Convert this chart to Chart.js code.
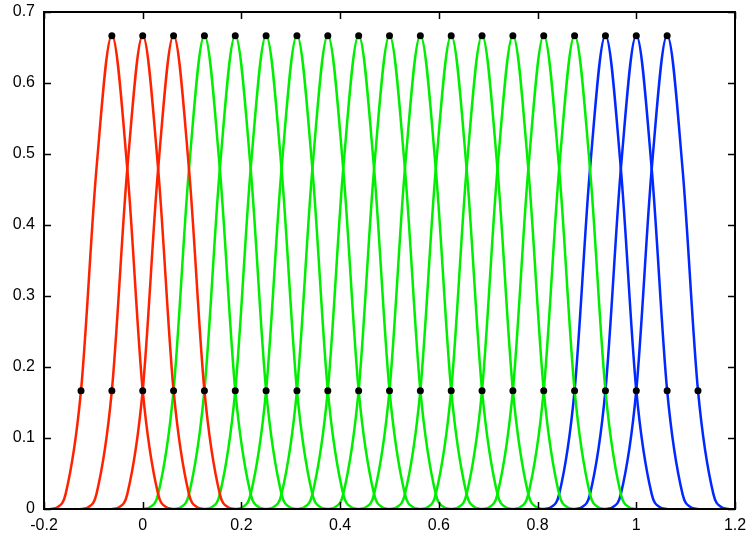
<!DOCTYPE html>
<html>
<head>
<meta charset="utf-8">
<script src="https://cdn.jsdelivr.net/npm/chart.js@4.4.1/dist/chart.umd.min.js"></script>
<style>
  html, body { margin: 0; padding: 0; background: #fff; }
  #wrap { width: 747px; height: 533px; }
</style>
</head>
<body>
<div id="wrap"><canvas id="myChart" width="747" height="533"></canvas></div>
<script>
// knot spacing and peak positions of each basis curve
const h = 0.0625;
const redCenters = [-0.0625, 0, 0.0625];
const greenCenters = [0.125, 0.1875, 0.25, 0.3125, 0.375, 0.4375, 0.5, 0.5625, 0.625, 0.6875, 0.75, 0.8125, 0.875];
const blueCenters = [0.9375, 1, 1.0625];

// curve profile: offset from the peak (in knot spacings) and height
const profileOffsets = [-2, -1.75, -1.5, -1, -0.5, 0, 0.5, 1, 1.5, 1.75, 2];
const profileValues = [0, 0.003, 0.021, 0.167, 0.479, 0.667, 0.479, 0.167, 0.021, 0.003, 0];

// black markers at the knots
const knotX = [-0.125, -0.0625, 0, 0.0625, 0.125, 0.1875, 0.25, 0.3125, 0.375, 0.4375, 0.5,
  0.5625, 0.625, 0.6875, 0.75, 0.8125, 0.875, 0.9375, 1, 1.0625, 1.125];
const knotY = 0.1667;
const peakY = 0.6667;

const xTicks = [-0.2, 0, 0.2, 0.4, 0.6, 0.8, 1, 1.2];
const yTicks = [0, 0.1, 0.2, 0.3, 0.4, 0.5, 0.6, 0.7];

const RED = "#ff2200";
const GREEN = "#00ee00";
const BLUE = "#0028ff";

function curve(c, color) {
  const pts = [];
  for (let i = 0; i < profileOffsets.length; i++) {
    pts.push({ x: c + profileOffsets[i] * h, y: profileValues[i] });
  }
  return {
    data: pts,
    showLine: true,
    borderColor: color,
    borderWidth: 2.5,
    pointRadius: 0,
    cubicInterpolationMode: "monotone",
    fill: false,
    order: 1,
  };
}

let datasets = [];
redCenters.forEach((c) => datasets.push(curve(c, RED)));
greenCenters.forEach((c) => datasets.push(curve(c, GREEN)));
blueCenters.forEach((c) => datasets.push(curve(c, BLUE)));

let dots = knotX.map((x) => ({ x: x, y: knotY }));
redCenters.concat(greenCenters, blueCenters).forEach((c) => dots.push({ x: c, y: peakY }));
datasets.push({
  data: dots,
  showLine: false,
  pointRadius: 3.5,
  pointBackgroundColor: "#000",
  pointBorderWidth: 0,
  order: 0,
});

// box frame with inward ticks on all four sides
const framePlugin = {
  id: "frame",
  afterDatasetsDraw(chart) {
    const { ctx, chartArea: a, scales } = chart;
    const len = 7;
    ctx.save();
    ctx.strokeStyle = "#000";
    ctx.lineWidth = 1.5;
    ctx.beginPath();
    for (const v of xTicks) {
      const px = Math.round(scales.x.getPixelForValue(v)) + 0.5;
      ctx.moveTo(px, a.bottom);
      ctx.lineTo(px, a.bottom - len);
      ctx.moveTo(px, a.top);
      ctx.lineTo(px, a.top + len);
    }
    for (const v of yTicks) {
      const py = Math.round(scales.y.getPixelForValue(v)) + 0.5;
      ctx.moveTo(a.left, py);
      ctx.lineTo(a.left + len, py);
      ctx.moveTo(a.right, py);
      ctx.lineTo(a.right - len, py);
    }
    ctx.stroke();
    ctx.lineWidth = 2;
    ctx.strokeRect(a.left, a.top, a.right - a.left, a.bottom - a.top);
    ctx.restore();
  },
};

const ctx = document.getElementById("myChart");
const chart = new Chart(ctx, {
  type: "scatter",
  data: { datasets: datasets },
  options: {
    responsive: false,
    animation: false,
    devicePixelRatio: 1,
    layout: { padding: { top: 12, right: 12, left: 0, bottom: 0 } },
    plugins: { legend: { display: false }, tooltip: { enabled: false } },
    scales: {
      x: {
        type: "linear",
        min: -0.2,
        max: 1.2,
        grid: { display: false, drawTicks: false },
        border: { display: false },
        afterBuildTicks: (s) => { s.ticks = xTicks.map((v) => ({ value: v })); },
        afterFit: (s) => {
          s.height = 24;
          s.paddingLeft = 0;
          s.paddingRight = 0;
        },
        ticks: {
          padding: 7,
          color: "#000",
          font: { family: "Liberation Sans", size: 16 },
          maxRotation: 0,
          callback: (v) => String(v),
        },
      },
      y: {
        type: "linear",
        min: 0,
        max: 0.7,
        grid: { display: false, drawTicks: false },
        border: { display: false },
        afterBuildTicks: (s) => { s.ticks = yTicks.map((v) => ({ value: v })); },
        afterFit: (s) => {
          s.width = 44;
          s.paddingTop = 0;
          s.paddingBottom = 0;
        },
        ticks: {
          padding: 9,
          color: "#000",
          font: { family: "Liberation Sans", size: 16 },
          callback: (v) => String(v),
        },
      },
    },
  },
  plugins: [framePlugin],
});
</script>
</body>
</html>
